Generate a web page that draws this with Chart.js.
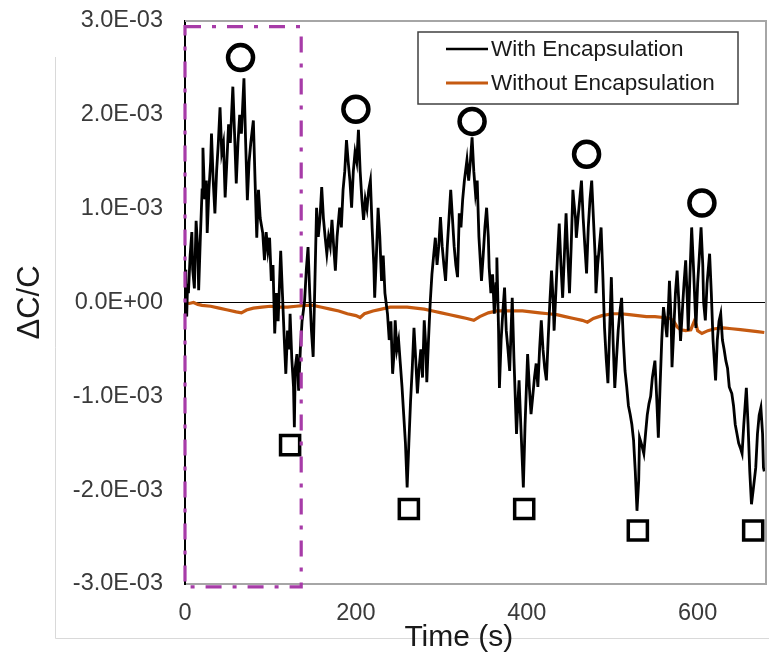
<!DOCTYPE html>
<html>
<head>
<meta charset="utf-8">
<script src="https://cdn.jsdelivr.net/npm/chart.js@4/dist/chart.umd.min.js"></script>
<style>
  html, body { margin: 0; padding: 0; background: #ffffff; }
  #wrap { width: 769px; height: 653px; position: relative; }
</style>
</head>
<body>
<div id="wrap"><canvas id="c" width="769" height="653"></canvas></div>
<script>
// ---- data (values in units of 1E-03) ----
const withTime = [0,1,2,3,4,6,8,9,11,13,15,16,18,20,21,23,25,26,28,30,31,33,35,37,39,41,43,45,47,49,51,53,56,58,60,62,64,66,69,71,73,75,77,80,82,84,86,88,91,93,95,97,99,101,103,105,107,109,112,114,116,118,120,122,123,125,127,128,129,131,133,135,137,140,142,144,146,148,150,152,154,156,158,160,162,164,166,168,170,172,174,176,178,181,183,185,187,189,191,193,195,197,199,201,203,205,207,209,211,213,215,217,219,221,222,224,226,228,230,232,234,237,239,241,243,245,246,248,250,252,254,256,258,260,262,264,266,268,270,272,274,276,278,280,282,283,285,287,289,291,293,295,297,299,301,303,305,307,309,311,313,315,317,319,321,323,325,327,330,332,334,336,338,340,342,344,347,349,351,353,355,356,358,360,362,364,365,367,368,370,372,374,376,378,380,382,383,385,388,390,391,393,396,398,401,403,405,407,409,411,413,415,417,419,421,423,425,427,429,431,432,434,436,438,440,442,444,446,448,450,452,454,455,457,458,460,462,464,466,468,470,472,474,476,478,480,481,483,485,487,489,491,493,495,497,499,501,503,505,507,509,511,513,515,517,519,521,523,525,527,529,531,532,534,537,539,541,543,545,547,550,552,554,556,558,560,562,564,566,567,569,570,572,574,576,578,580,582,584,586,588,589,591,593,595,598,600,602,604,606,607,609,611,614,616,618,621,623,625,627,629,631,633,635,637,640,642,644,646,648,650,652,654,657,659,661,663,665,668,670,672,674,676,677,678];
const withValue = [0.35,0.05,-0.15,0.2,0.1,0.5,0.75,0.35,0.15,0.87,0.55,0.13,0.7,1.2,1.65,1.1,1.3,0.74,1.2,1.5,1.8,1.3,0.95,1.4,1.7,2.08,1.6,1.7,1.12,1.5,1.9,1.7,2.3,1.8,1.27,1.7,2.0,1.8,2.39,1.7,1.09,1.5,1.7,1.94,1.3,0.69,1.2,0.9,0.74,0.45,0.75,0.55,0.69,0.23,0.4,-0.33,0.1,-0.2,0.55,0.1,-0.35,-0.76,-0.3,-0.5,-0.12,-0.6,-0.9,-1.33,-0.7,-0.55,-0.94,-0.5,-0.2,0.02,0.35,0.59,0.1,-0.3,-0.58,0.2,1.01,0.7,0.9,1.23,0.9,0.7,0.52,0.7,0.6,0.88,0.6,0.34,0.7,1.01,0.8,1.2,1.4,1.73,1.5,1.3,1.01,1.4,1.6,1.5,1.84,1.4,1.1,0.88,1.1,1.0,1.2,1.3,0.8,0.4,0.05,0.5,1.01,0.7,0.23,0.5,0.1,-0.12,-0.4,-0.2,-0.76,-0.5,-0.19,-0.5,-0.4,-0.65,-0.9,-1.2,-1.5,-1.97,-1.5,-1.05,-0.7,-0.27,-0.6,-0.97,-0.7,-0.5,-0.8,-0.19,-0.5,-0.85,-0.4,0.0,0.3,0.5,0.69,0.4,0.6,0.91,0.6,0.4,0.23,0.6,0.9,1.2,0.9,0.6,0.4,0.27,0.95,0.8,1.1,1.3,1.52,1.3,1.5,1.76,1.4,1.16,1.3,0.7,0.23,0.5,0.8,1.01,0.7,0.37,0.1,0.3,-0.12,0.2,0.48,-0.3,-0.91,-0.4,-0.1,0.16,-0.3,-0.5,-0.73,-0.2,0.05,-0.6,-1.4,-1.0,-0.83,-1.3,-1.97,-1.3,-0.55,-0.9,-1.19,-1.0,-0.8,-0.65,-0.9,-0.5,-0.19,-0.5,-0.7,-0.83,-0.4,0.0,0.34,0.0,-0.3,0.1,0.5,0.84,0.4,0.05,0.5,0.95,0.5,0.1,0.6,1.2,1.09,0.9,0.69,0.9,1.1,1.3,0.9,0.6,0.31,0.8,1.1,1.3,0.9,0.5,0.1,0.4,0.6,0.8,0.3,-0.27,-0.6,-0.86,-0.3,0.27,-0.4,-0.91,-0.6,-0.3,-0.1,0.05,-0.4,-0.73,-0.9,-1.1,-1.19,-1.3,-1.47,-1.8,-2.22,-1.9,-1.44,-1.5,-1.61,-1.4,-1.2,-1.08,-1.0,-0.8,-0.62,-1.0,-1.44,-0.9,-0.4,-0.05,-0.2,-0.37,0.0,0.23,-0.2,-0.69,-0.3,0.1,0.34,0.0,-0.41,-0.1,0.2,0.45,0.0,-0.3,0.3,0.8,0.4,-0.27,0.2,0.5,0.8,0.4,0.0,-0.19,0.2,0.52,0.1,-0.4,-0.83,-0.4,-0.2,-0.12,-0.4,-0.5,-0.62,-0.7,-0.9,-0.97,-1.1,-1.3,-1.4,-1.5,-1.55,-1.61,-1.3,-0.91,-1.3,-1.8,-2.15,-2.0,-1.76,-1.4,-1.2,-1.12,-1.4,-1.76,-1.8];

const withoutTime = [0,5,10,15,20,30,40,50,60,66,72,80,90,100,110,120,130,140,150,160,170,180,190,200,205,210,220,230,240,250,260,270,280,290,300,310,320,330,338,345,355,365,375,385,395,405,415,425,435,445,455,465,471,478,488,500,510,520,530,540,550,560,568,572,576,580,586,592,596,598,600,605,612,620,630,640,650,660,670,678];
const withoutValue = [0.0,-0.01,0.0,-0.02,-0.03,-0.04,-0.06,-0.08,-0.1,-0.11,-0.08,-0.06,-0.05,-0.04,-0.05,-0.05,-0.04,-0.03,-0.03,-0.05,-0.07,-0.09,-0.12,-0.14,-0.16,-0.12,-0.09,-0.07,-0.05,-0.05,-0.05,-0.06,-0.07,-0.09,-0.11,-0.13,-0.15,-0.17,-0.19,-0.15,-0.11,-0.09,-0.09,-0.09,-0.09,-0.1,-0.11,-0.12,-0.13,-0.15,-0.17,-0.19,-0.21,-0.17,-0.14,-0.12,-0.12,-0.13,-0.14,-0.15,-0.15,-0.16,-0.17,-0.2,-0.26,-0.29,-0.3,-0.29,-0.2,-0.23,-0.3,-0.33,-0.3,-0.28,-0.27,-0.28,-0.29,-0.3,-0.31,-0.32];

const peakTime = [65, 200, 336, 470, 605];
const peakValue = [2.61, 2.06, 1.93, 1.58, 1.06];
const troughTime = [123, 262, 397, 530, 665];
const troughValue = [-1.52, -2.20, -2.20, -2.43, -2.43];

const boxTime = [0, 136];
const boxValue = [-3.03, 2.94];

const xTicks = [0, 200, 400, 600];
const yTicks = [-3, -2, -1, 0, 1, 2, 3];
const seriesLabels = ['With Encapsulation', 'Without Encapsulation'];
const xTitle = 'Time (s)';
const yTitle = '\u0394C/C';

// ---- helpers ----
const E = 1e-3;
const pts = (t, v) => t.map((x, i) => ({ x: x, y: v[i] * E }));
function sci(v) {
  if (Math.abs(v) < 1e-12) return '0.0E+00';
  const e = Math.floor(Math.log10(Math.abs(v)) + 1e-9);
  const m = v / Math.pow(10, e);
  return m.toFixed(1) + 'E' + (e < 0 ? '-' : '+') + String(Math.abs(e)).padStart(2, '0');
}
const FONT = "'Liberation Sans', Arial, sans-serif";
const BLACK = '#000000';
const ORANGE = '#C55A11';

const framePlugin = {
  id: 'frame',
  beforeDraw(chart) {
    const ctx = chart.ctx;
    ctx.save();
    ctx.fillStyle = '#ffffff';
    ctx.fillRect(0, 0, chart.width, chart.height);
    ctx.strokeStyle = '#d9d9d9';
    ctx.lineWidth = 1;
    ctx.beginPath();
    ctx.moveTo(55.5, 57);
    ctx.lineTo(55.5, 638.5);
    ctx.lineTo(769, 638.5);
    ctx.stroke();
    ctx.restore();
  },
  afterDraw(chart) {
    const ctx = chart.ctx;
    const a = chart.chartArea;
    const xs = chart.scales.x, ys = chart.scales.y;
    ctx.save();
    ctx.strokeStyle = '#a6a6a6';
    ctx.lineWidth = 2;
    ctx.beginPath();
    ctx.moveTo(a.left, a.top);
    ctx.lineTo(a.right, a.top);
    ctx.lineTo(a.right, a.bottom);
    ctx.stroke();
    const x0 = xs.getPixelForValue(boxTime[0]), x1 = xs.getPixelForValue(boxTime[1]);
    const y0 = ys.getPixelForValue(boxValue[1] * E), y1 = ys.getPixelForValue(boxValue[0] * E);
    ctx.strokeStyle = '#A73BA8';
    ctx.lineWidth = 3.2;
    ctx.setLineDash([16, 11, 4, 11]);
    ctx.beginPath();
    ctx.rect(x0, y0, x1 - x0, y1 - y0);
    ctx.stroke();
    ctx.setLineDash([]);
    const lx = 418, ly = 32, lw = 320, lh = 72;
    ctx.fillStyle = '#ffffff';
    ctx.fillRect(lx, ly, lw, lh);
    ctx.strokeStyle = '#404040';
    ctx.lineWidth = 1.5;
    ctx.strokeRect(lx, ly, lw, lh);
    const rows = [49, 83];
    ctx.font = '22.5px ' + FONT;
    ctx.textBaseline = 'middle';
    ctx.textAlign = 'left';
    [0, 1].forEach(i => {
      const ds = chart.data.datasets[i];
      ctx.strokeStyle = ds.borderColor;
      ctx.lineWidth = i === 0 ? 2.5 : 3;
      ctx.beginPath();
      ctx.moveTo(446, rows[i]);
      ctx.lineTo(488, rows[i]);
      ctx.stroke();
      ctx.fillStyle = '#1a1a1a';
      ctx.fillText(ds.label, 491, rows[i] + 1);
    });
    ctx.restore();
  }
};

new Chart(document.getElementById('c'), {
  type: 'scatter',
  data: {
    datasets: [
      { label: seriesLabels[0], data: pts(withTime, withValue), showLine: true, borderColor: BLACK, backgroundColor: BLACK, borderWidth: 2.8, pointRadius: 0, tension: 0, order: 2 },
      { label: seriesLabels[1], data: pts(withoutTime, withoutValue), showLine: true, borderColor: ORANGE, backgroundColor: ORANGE, borderWidth: 3.2, pointRadius: 0, tension: 0, order: 3 },
      { label: 'peaks', data: pts(peakTime, peakValue), showLine: false, pointStyle: 'circle', pointRadius: 12.5, pointBorderWidth: 4.5, borderColor: BLACK, backgroundColor: '#ffffff', pointBackgroundColor: '#ffffff', pointBorderColor: BLACK, clip: false, order: 1 },
      { label: 'troughs', data: pts(troughTime, troughValue), showLine: false, pointStyle: 'rect', pointRadius: 13.5, pointBorderWidth: 3.5, borderColor: BLACK, backgroundColor: '#ffffff', pointBackgroundColor: '#ffffff', pointBorderColor: BLACK, clip: false, order: 1 }
    ]
  },
  options: {
    responsive: false,
    animation: false,
    events: [],
    layout: { autoPadding: false, padding: { left: 0, top: 21, right: 3, bottom: 0 } },
    plugins: { legend: { display: false }, tooltip: { enabled: false } },
    scales: {
      x: {
        type: 'linear', min: 0, max: 680,
        afterBuildTicks: s => { s.ticks = xTicks.map(v => ({ value: v })); },
        afterFit: s => { s.height = 69; s.paddingLeft = 0; s.paddingRight = 0; },
        grid: { display: false, drawTicks: false },
        border: { display: true, color: '#a6a6a6', width: 2 },
        ticks: { padding: 15, color: '#3a3a3a', font: { family: FONT, size: 23.5 }, maxRotation: 0, callback: v => String(v) },
        title: { display: true, text: xTitle + '\u00a0\u00a0\u00a0\u00a0', color: '#1a1a1a', font: { family: FONT, size: 30, lineHeight: 1.0 }, padding: { top: 0, bottom: 0 } }
      },
      y: {
        type: 'linear', min: -3 * E, max: 3 * E,
        afterBuildTicks: s => { s.ticks = yTicks.map(v => ({ value: v * E })); },
        afterFit: s => { s.width = 185; s.paddingTop = 0; s.paddingBottom = 0; },
        grid: { drawTicks: false, color: c => (c.tick && Math.abs(c.tick.value) < 1e-12 ? '#000000' : 'rgba(0,0,0,0)'), lineWidth: 1 },
        border: { display: true, color: '#000000', width: 2 },
        ticks: { padding: 22, color: '#3a3a3a', font: { family: FONT, size: 23.5 }, callback: v => sci(v) },
        title: { display: true, text: yTitle, color: '#1a1a1a', font: { family: FONT, size: 31 }, padding: { top: 12, bottom: 0 } }
      }
    }
  },
  plugins: [framePlugin]
});
</script>
</body>
</html>
